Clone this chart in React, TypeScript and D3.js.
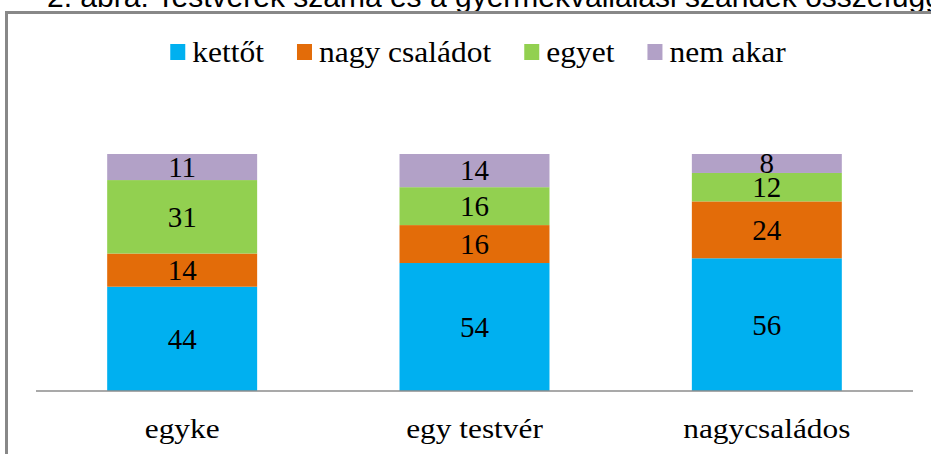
import React, { useLayoutEffect, useRef, useState } from "react";
import * as d3 from "d3";

const categories = ["egyke", "egy testvér", "nagycsaládos"];
const seriesNames = ["kettőt", "nagy családot", "egyet", "nem akar"];
const kettot = [44, 54, 56];
const nagyCsaladot = [14, 16, 24];
const egyet = [31, 16, 12];
const nemAkar = [11, 14, 8];
const colors = ["#00B0F0", "#E36C09", "#92D050", "#B2A1C7"];
const title = "2. ábra: Testvérek száma és a gyermekvállalási szándék összefüggése";

const W = 931;
const H = 454;

const SERIF = '"Liberation Serif", "Times New Roman", serif';
const SANS = '"Liberation Sans", Arial, sans-serif';

export default function App() {
  const seriesValues = [kettot, nagyCsaladot, egyet, nemAkar];
  const rows = categories.map((cat, i) => {
    const r: any = { cat };
    seriesNames.forEach((s, j) => (r[s] = seriesValues[j][i]));
    return r;
  });
  const stack = d3.stack<any>().keys(seriesNames)(rows);

  const x = d3
    .scaleBand<string>()
    .domain(categories)
    .range([36, 913])
    .paddingInner(0.487)
    .paddingOuter(0.2435);
  const y = d3.scaleLinear().domain([0, 100]).range([391, 154]);

  const legendFs = 30;
  const legendSx = 1.05;
  const sq = 15;
  const gapText = 7;
  const gapItem = 33;

  const measureRefs = useRef<(SVGTextElement | null)[]>([]);
  const [widths, setWidths] = useState<number[]>(seriesNames.map((s) => s.length * 13));
  useLayoutEffect(() => {
    const w = measureRefs.current.map((el, i) =>
      el ? el.getComputedTextLength() * legendSx : widths[i]
    );
    setWidths(w);
  }, []);

  const total =
    widths.reduce((a, b) => a + b, 0) +
    seriesNames.length * (sq + gapText) +
    (seriesNames.length - 1) * gapItem;
  let cursor = 478 - total / 2;
  const legendItems = seriesNames.map((s, i) => {
    const item = { name: s, x: cursor, color: colors[i] };
    cursor += sq + gapText + widths[i] + gapItem;
    return item;
  });

  return (
    <div style={{ position: "fixed", left: 0, top: 0 }}>
      <svg width={W} height={H} style={{ display: "block", background: "#fff" }}>
        <text x={47} y={7} fontSize={30} fill="#000" style={{ fontFamily: SANS }}>
          {title}
        </text>
        <rect x={6.5} y={12.5} width={1000} height={1000} fill="none" stroke="#888" strokeWidth={3} />

        {legendItems.map((it, i) => (
          <g key={it.name}>
            <rect x={it.x} y={44} width={sq} height={16} fill={it.color} />
            <text
              ref={(el) => {
                measureRefs.current[i] = el;
              }}
              transform={`translate(${it.x + sq + gapText},62) scale(${legendSx},1)`}
              fontSize={legendFs}
              fill="#000"
              style={{ fontFamily: SERIF }}
            >
              {it.name}
            </text>
          </g>
        ))}

        {stack.map((layer, li) => (
          <g key={layer.key} fill={colors[li]}>
            {layer.map((d, i) => (
              <rect
                key={i}
                x={x(categories[i])}
                y={y(d[1])}
                width={x.bandwidth()}
                height={y(d[0]) - y(d[1])}
              />
            ))}
          </g>
        ))}

        {stack.map((layer) =>
          layer.map((d, i) => (
            <text
              key={layer.key + i}
              x={(x(categories[i]) as number) + x.bandwidth() / 2}
              y={(y(d[0]) + y(d[1])) / 2}
              dy="0.34em"
              textAnchor="middle"
              fontSize={29}
              fill="#000"
              style={{ fontFamily: SERIF }}
            >
              {d[1] - d[0]}
            </text>
          ))
        )}

        <line x1={36} x2={913} y1={391} y2={391} stroke="#8c8c8c" strokeWidth={1.5} />

        {categories.map((c) => (
          <text
            key={c}
            transform={`translate(${(x(c) as number) + x.bandwidth() / 2},438) scale(1.12,1)`}
            textAnchor="middle"
            fontSize={28}
            fill="#000"
            style={{ fontFamily: SERIF }}
          >
            {c}
          </text>
        ))}
      </svg>
    </div>
  );
}
